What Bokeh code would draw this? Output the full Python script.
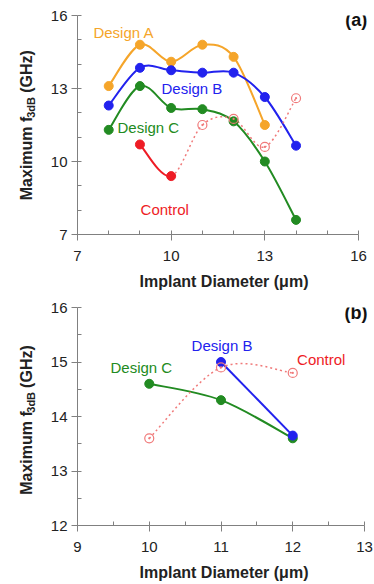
import numpy as np
from bokeh.plotting import figure
from bokeh.layouts import column, row
from bokeh.models import Label, FixedTicker, Range1d
from bokeh.embed import file_html
from bokeh.resources import INLINE

# ---------------- data: panel (a) ----------------
a_xA = [8, 9, 10, 11, 12, 13]
a_designA = [13.1, 14.8, 14.1, 14.8, 14.3, 11.5]
a_xB = [8, 9, 10, 11, 12, 13, 14]
a_designB = [12.3, 13.85, 13.75, 13.65, 13.65, 12.65, 10.65]
a_xC = [8, 9, 10, 11, 12, 13, 14]
a_designC = [11.3, 13.1, 12.2, 12.15, 11.65, 10.0, 7.6]
a_xCtrl = [9, 10, 11, 12, 13, 14]
a_control = [10.7, 9.4, 11.5, 11.75, 10.6, 12.6]
a_ctrl_filled = 2          # first points measured as solid markers

# ---------------- data: panel (b) ----------------
b_xC = [10, 11, 12]
b_designC = [14.6, 14.3, 13.6]
b_xB = [11, 12]
b_designB = [15.0, 13.65]
b_xCtrl = [10, 11, 12]
b_control = [13.6, 14.9, 14.8]

a_xticks = [7, 10, 13, 16]
a_yticks = [7, 10, 13, 16]
b_xticks = [9, 10, 11, 12, 13]
b_yticks = [12, 13, 14, 15, 16]

ORANGE = "#F5A52A"
BLUE = "#2222EE"
GREEN = "#228B22"
RED = "#EE1C25"
PINK = "#F07A7A"
AXIS = "#808080"
FONT = "Liberation Sans"
FRAME_H = 222


def bez(xs, ys):
    n = len(xs)
    d = dict(x0=[], y0=[], x1=[], y1=[], cx0=[], cy0=[], cx1=[], cy1=[])
    for i in range(n - 1):
        i0 = max(i - 1, 0)
        i3 = min(i + 2, n - 1)
        d["x0"].append(xs[i]); d["y0"].append(ys[i])
        d["x1"].append(xs[i + 1]); d["y1"].append(ys[i + 1])
        d["cx0"].append(xs[i] + (xs[i + 1] - xs[i0]) / 6)
        d["cy0"].append(ys[i] + (ys[i + 1] - ys[i0]) / 6)
        d["cx1"].append(xs[i + 1] - (xs[i3] - xs[i]) / 6)
        d["cy1"].append(ys[i + 1] - (ys[i3] - ys[i]) / 6)
    return d


def sub(d, a, b):
    return {k: v[a:b] for k, v in d.items()}


def make_fig(w, h, xr, xb, yr, xt, xminor, yt, yminor, bl, br, bt, bb):
    p = figure(width=w, height=h, x_range=Range1d(*xr), y_range=Range1d(*yr),
               output_backend="svg", toolbar_location=None,
               min_border_left=bl, min_border_right=br,
               min_border_top=bt, min_border_bottom=bb)
    p.outline_line_color = None
    p.xgrid.visible = False
    p.ygrid.visible = False
    p.xaxis.ticker = FixedTicker(ticks=xt, minor_ticks=xminor)
    p.yaxis.ticker = FixedTicker(ticks=yt, minor_ticks=yminor)
    p.xaxis.bounds = xb
    for ax in (p.xaxis, p.yaxis):
        ax.axis_line_color = AXIS
        ax.major_tick_line_color = AXIS
        ax.minor_tick_line_color = AXIS
        ax.major_tick_out = 6
        ax.major_tick_in = 0
        ax.minor_tick_out = 0
        ax.minor_tick_in = 4
        ax.major_label_text_font = FONT
        ax.major_label_text_font_size = "15px"
        ax.major_label_text_color = "#222222"
    p.yaxis.major_label_standoff = 4
    p.xaxis.major_label_standoff = 10
    p.xaxis.axis_label = "Implant Diameter (\u03bcm)"
    p.xaxis.axis_label_text_font = FONT
    p.xaxis.axis_label_text_font_size = "16px"
    p.xaxis.axis_label_text_font_style = "bold"
    p.xaxis.axis_label_text_color = "#222222"
    p.xaxis.axis_label_standoff = 9
    return p


def ylabel_fig(w, h, cx, cy):
    # frame of this figure is aligned (by the row layout) with the chart frame,
    # so its y range is expressed in pixels of that frame, measured from its bottom
    q = figure(width=w, height=h, x_range=Range1d(0, w), y_range=Range1d(0, FRAME_H),
               output_backend="svg", toolbar_location=None,
               x_axis_location=None, y_axis_location=None,
               min_border=0, title=None)
    q.outline_line_color = None
    q.xgrid.visible = False
    q.ygrid.visible = False
    w1, w2, gap, w3 = 83.6, 20.8, 4.5, 42.6
    y0 = cy - (w1 + w2 + gap + w3) / 2
    pieces = [("Maximum f", cx, y0, "16px"),
              ("3dB", cx + 4, y0 + w1, "11px"),
              ("(GHz)", cx, y0 + w1 + w2 + gap, "16px")]
    for t, x, y, fs in pieces:
        q.add_layout(Label(x=x, y=y, text=t, angle=90, angle_units="deg",
                           text_align="left", text_baseline="middle",
                           text_font=FONT, text_font_size=fs,
                           text_font_style="bold", text_color="#222222"))
    return q


def curve(p, xs, ys, color, dash="solid", width=2):
    d = bez(xs, ys)
    p.bezier(**d, line_color=color, line_width=width, line_dash=dash)


def txt(p, x, y, t, color, size="15px", style="normal", align="left"):
    p.add_layout(Label(x=x, y=y, text=t, text_color=color, text_font=FONT,
                       text_font_size=size, text_font_style=style,
                       text_align=align, text_baseline="middle"))


LW = 44
MW = 374 - LW

# ---------------- panel (a) ----------------
HA = 292
pa = make_fig(MW, HA, (7, 7 + 293 / 31.22), (7, 16), (7, 16), a_xticks, list(range(7, 17)),
              a_yticks, list(range(7, 17)), 77 - LW, 4, 15, HA - 15 - FRAME_H)
curve(pa, a_xA, a_designA, ORANGE)
curve(pa, a_xB, a_designB, BLUE)
curve(pa, a_xC, a_designC, GREEN)
dctrl = bez(a_xCtrl, a_control)
pa.bezier(**sub(dctrl, 0, a_ctrl_filled - 1), line_color=RED, line_width=2)
pa.bezier(**sub(dctrl, a_ctrl_filled - 1, len(a_xCtrl)), line_color=PINK,
          line_width=1.5, line_dash="2 3")
pa.scatter(a_xA, a_designA, size=9, marker="circle", fill_color=ORANGE, line_color=ORANGE)
pa.scatter(a_xB, a_designB, size=9, marker="circle", fill_color=BLUE, line_color=BLUE)
pa.scatter(a_xC, a_designC, size=9, marker="circle", fill_color=GREEN, line_color=GREEN)
pa.scatter(a_xCtrl[:a_ctrl_filled], a_control[:a_ctrl_filled], size=9, marker="circle",
           fill_color=RED, line_color=RED)
pa.scatter(a_xCtrl[a_ctrl_filled:], a_control[a_ctrl_filled:], size=9, marker="circle_dot",
           fill_color=None, line_color=PINK, line_width=1.2)
txt(pa, 7.51, 15.31, "Design A", ORANGE)
txt(pa, 9.69, 13.0, "Design B", BLUE)
txt(pa, 8.28, 11.38, "Design C", GREEN)
txt(pa, 9.02, 8.01, "Control", RED)
txt(pa, 16.28, 15.8, "(a)", "#111111", size="18px", style="bold", align="right")
la = ylabel_fig(LW, HA, 26, 237 - 126.5)

# ---------------- panel (b) ----------------
HB = 291
pb = make_fig(MW, HB, (9, 9 + 293 / 71.75), (9, 13), (12, 16), b_xticks,
              list(np.arange(9, 13.01, 0.5)), b_yticks, list(np.arange(12, 16.01, 0.5)),
              77 - LW, 4, 15, HB - 15 - FRAME_H)
curve(pb, b_xC, b_designC, GREEN)
curve(pb, b_xB, b_designB, BLUE)
curve(pb, b_xCtrl, b_control, PINK, dash="2 3", width=1.5)
pb.scatter(b_xC, b_designC, size=9, marker="circle", fill_color=GREEN, line_color=GREEN)
pb.scatter(b_xB, b_designB, size=9, marker="circle", fill_color=BLUE, line_color=BLUE)
pb.scatter(b_xCtrl, b_control, size=9, marker="circle_dot", fill_color=None,
           line_color=PINK, line_width=1.2)
txt(pb, 10.59, 15.30, "Design B", BLUE)
txt(pb, 9.46, 14.89, "Design C", GREEN)
txt(pb, 12.06, 15.05, "Control", RED)
txt(pb, 13.04, 15.9, "(b)", "#111111", size="18px", style="bold", align="right")
lb = ylabel_fig(LW, HB, 26, (HA + 15 + FRAME_H) - 422)

layout = column(row(la, pa, spacing=0), row(lb, pb, spacing=0), spacing=0)
open("out.html", "w").write(file_html(layout, INLINE))
